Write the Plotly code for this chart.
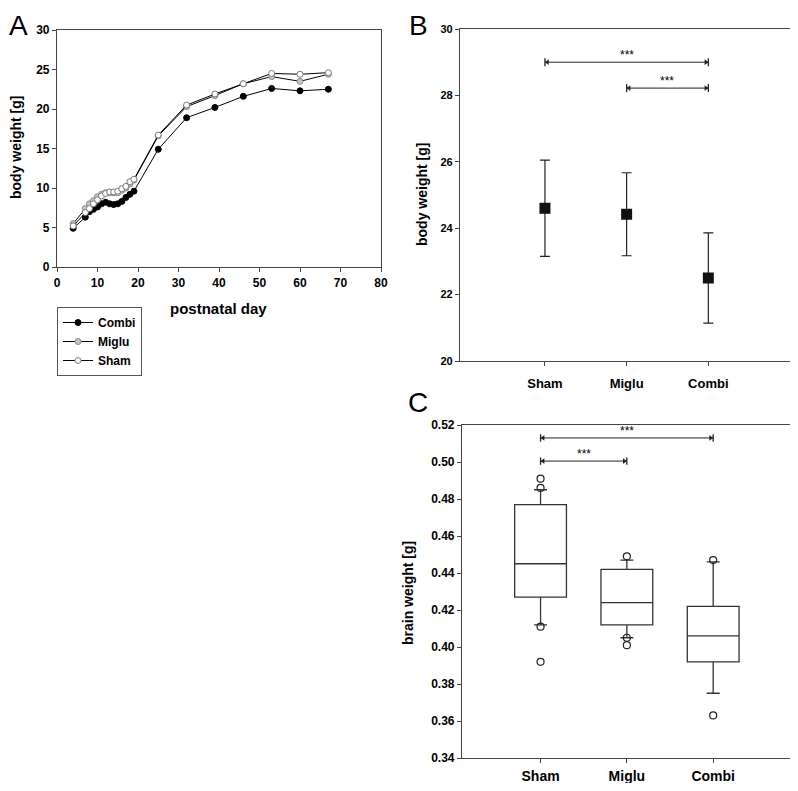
import plotly.graph_objects as go

# page body has an 8px margin, so the figure is drawn 16px smaller and offset by 8px
W, H = 798, 791
OFF = 8
FW, FH = W - 2 * OFF, H - 2 * OFF

# ---- panel A: body weight over postnatal days ----
days = [4, 7, 8, 9, 10, 11, 12, 13, 14, 15, 16, 17, 18, 19, 25, 32, 39, 46, 53, 60, 67]
combi_w = [4.9, 6.3, 7.0, 7.3, 7.6, 8.0, 8.2, 8.0, 7.9, 8.0, 8.3, 8.8, 9.2, 9.6,
           14.9, 18.9, 20.2, 21.6, 22.6, 22.3, 22.5]
miglu_w = [5.5, 7.4, 8.0, 8.4, 8.9, 9.2, 9.4, 9.4, 9.4, 9.4, 9.7, 10.0, 10.5, 11.0,
           16.6, 20.3, 21.7, 23.2, 24.1, 23.5, 24.4]
sham_w = [5.2, 6.9, 7.4, 8.0, 8.5, 9.0, 9.3, 9.5, 9.5, 9.6, 9.9, 10.2, 10.8, 11.1,
          16.7, 20.5, 21.9, 23.2, 24.5, 24.4, 24.6]

# ---- panel B: final body weight, mean +/- sd ----
groups = ["Sham", "Miglu", "Combi"]
bw_mean = [24.6, 24.42, 22.5]
bw_sd = [1.45, 1.25, 1.36]
b_sig = [(0, 2, 29.0), (1, 2, 28.22)]

# ---- panel C: brain weight box plots ----
brain_q1 = [0.427, 0.412, 0.392]
brain_med = [0.445, 0.424, 0.406]
brain_q3 = [0.477, 0.442, 0.422]
brain_lo = [0.412, 0.405, 0.375]
brain_hi = [0.485, 0.447, 0.446]
brain_out = [[0.491, 0.486, 0.411, 0.392], [0.449, 0.405, 0.401], [0.447, 0.363]]
c_sig = [(0, 2, 0.513), (0, 1, 0.5005)]


def fx(px):
    return min(max((px - OFF) / FW, 0), 1)


def fy(py):
    return min(max(1 - (py - OFF) / FH, 0), 1)


def px_x(a, b):
    return [fx(a), fx(b)]


def px_y(top, bottom):
    return [fy(bottom), fy(top)]


FONT = "Liberation Sans"
INK = "#222222"

fig = go.Figure()

styles = [("Combi", combi_w, "black", "black"),
          ("Miglu", miglu_w, "#c4c4c4", "#8a8a8a"),
          ("Sham", sham_w, "white", "#7a7a7a")]
for name, vals, fill, edge in styles:
    fig.add_trace(go.Scatter(x=days, y=vals, name=name, mode="lines+markers",
                             line=dict(color="black", width=1),
                             marker=dict(size=6, color=fill, line=dict(color=edge, width=1)),
                             xaxis="x", yaxis="y"))

# panel B
xs = list(range(len(groups)))
fig.add_trace(go.Scatter(x=xs, y=bw_mean, mode="markers", showlegend=False,
                         marker=dict(symbol="square", size=11, color="#111111"),
                         error_y=dict(type="data", array=bw_sd, color=INK,
                                      thickness=1.2, width=5),
                         xaxis="x2", yaxis="y2"))


def add_bracket(x0, x1, y, dy, xa, ya):
    fig.add_trace(go.Scatter(x=[x0, x1], y=[y, y], mode="lines", showlegend=False,
                             line=dict(color=INK, width=1),
                             xaxis=xa, yaxis=ya, hoverinfo="skip"))
    for xe in (x0, x1):
        fig.add_trace(go.Scatter(x=[xe, xe], y=[y - dy, y + dy], mode="lines",
                                 showlegend=False, line=dict(color=INK, width=1.3),
                                 xaxis=xa, yaxis=ya, hoverinfo="skip"))
    fig.add_trace(go.Scatter(x=[x0 + 0.03, x1 - 0.03], y=[y, y], mode="markers",
                             showlegend=False,
                             marker=dict(symbol=["triangle-left", "triangle-right"],
                                         size=5, color=INK),
                             xaxis=xa, yaxis=ya, hoverinfo="skip"))
    fig.add_annotation(x=(x0 + x1) / 2, y=y, xref=xa, yref=ya, text="***",
                       showarrow=False, yanchor="bottom", yshift=-2,
                       font=dict(family=FONT, size=12, color="black"))


for x0, x1, y in b_sig:
    add_bracket(x0, x1, y, 0.12, "x2", "y2")

# panel C
for i in xs:
    fig.add_trace(go.Box(x=[i], q1=[brain_q1[i]], median=[brain_med[i]], q3=[brain_q3[i]],
                         lowerfence=[brain_lo[i]], upperfence=[brain_hi[i]],
                         width=0.6, whiskerwidth=0.25, fillcolor="white",
                         line=dict(color="#333333", width=1.3), showlegend=False,
                         boxpoints=False, xaxis="x3", yaxis="y3"))
    fig.add_trace(go.Scatter(x=[i] * len(brain_out[i]), y=brain_out[i], mode="markers",
                             showlegend=False,
                             marker=dict(symbol="circle-open", size=7, color=INK,
                                         line=dict(width=1.2)),
                             xaxis="x3", yaxis="y3"))

for x0, x1, y in c_sig:
    add_bracket(x0, x1, y, 0.002, "x3", "y3")


def axis(size, **kw):
    d = dict(showline=True, linecolor="#444444", linewidth=1.2, mirror=True,
             ticks="outside", ticklen=4, tickcolor="#444444", showgrid=False,
             zeroline=False, automargin=False,
             tickfont=dict(family=FONT, size=size, color="black", weight="bold"))
    d.update(kw)
    return d


fig.update_layout(
    width=FW, height=FH, margin=dict(l=0, r=0, t=0, b=0),
    plot_bgcolor="white", paper_bgcolor="white",
    font=dict(family=FONT, color="black"),
    xaxis=axis(12, domain=px_x(57, 381), range=[0, 80], dtick=10, anchor="y"),
    yaxis=axis(12, domain=px_y(30, 267), range=[0, 30], dtick=5, anchor="x"),
    xaxis2=axis(13, domain=px_x(460, 791), range=[-1.04, 3.0], tickvals=xs,
                ticktext=groups, anchor="y2", ticklabelstandoff=6),
    yaxis2=axis(11, domain=px_y(29, 361), range=[20, 30], dtick=2, anchor="x2"),
    xaxis3=axis(14, domain=px_x(462, 791), range=[-0.91, 2.89], tickvals=xs,
                ticktext=groups, anchor="y3", ticklabelstandoff=1),
    yaxis3=axis(12, domain=px_y(425, 758), range=[0.34, 0.52], dtick=0.02,
                tickformat=".2f", anchor="x3"),
    legend=dict(x=fx(57), y=fy(307), xanchor="left", yanchor="top",
                bordercolor="#555555", borderwidth=1, bgcolor="white",
                font=dict(family=FONT, size=12, color="black", weight="bold"),
                tracegroupgap=0, itemwidth=30),
    showlegend=True,
)


def label(text, x, y, size, angle=0, bold=True):
    fig.add_annotation(x=fx(x), y=fy(y), xref="paper", yref="paper", text=text,
                       showarrow=False, textangle=angle, xanchor="center", yanchor="middle",
                       font=dict(family=FONT, size=size, color="black",
                                 weight="bold" if bold else "normal"))


label("postnatal day", 219, 308, 15)
label("body weight [g]", 16, 148, 14, -90)
label("body weight [g]", 422, 195, 14, -90)
label("brain weight [g]", 408, 593, 14, -90)
label("A", 18, 26, 28, bold=False)
label("B", 418, 26, 28, bold=False)
label("C", 418, 402, 28, bold=False)

fig.write_html("out.html")
